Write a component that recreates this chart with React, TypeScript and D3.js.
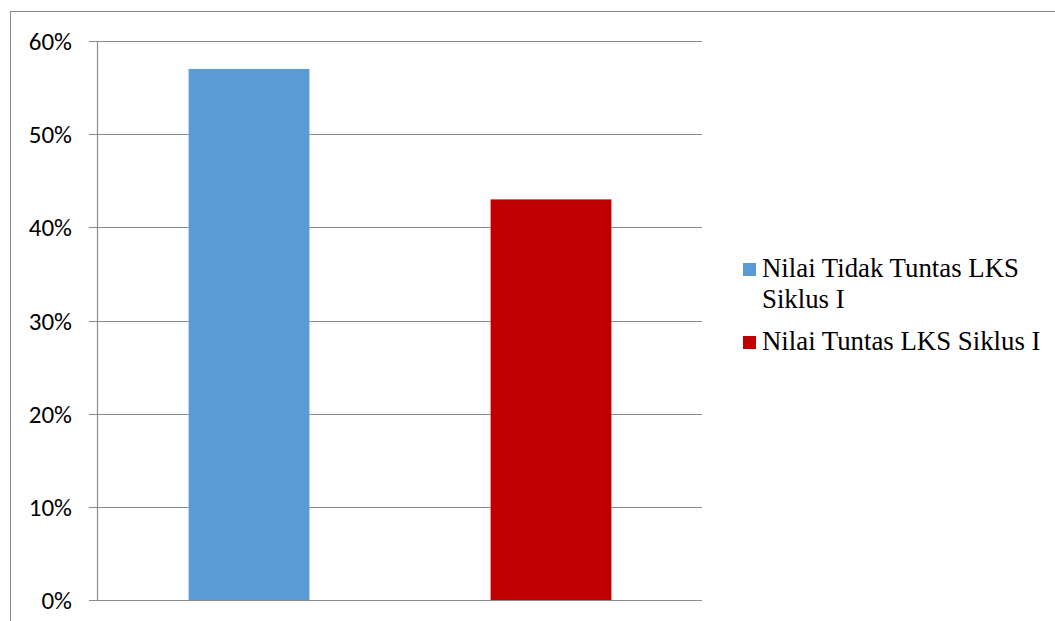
import React from "react";
import * as d3 from "d3";

const categories = ["Nilai Tidak Tuntas LKS Siklus I", "Nilai Tuntas LKS Siklus I"];
const values = [0.57, 0.43];
const colors = ["#5B9BD5", "#C00000"];
const yTicks = [0, 0.1, 0.2, 0.3, 0.4, 0.5, 0.6];
const legendLines = [["Nilai Tidak Tuntas LKS", "Siklus I"], ["Nilai Tuntas LKS Siklus I"]];

export default function App() {
  const W = 1055, H = 621;
  const left = 98, right = 702, top = 41, bottom = 600;
  const x = d3.scaleBand<string>().domain(categories).range([left, right]).paddingInner(0.6).paddingOuter(0.3);
  const y = d3.scaleLinear().domain([0, 0.6]).range([bottom, top]);
  const fmt = d3.format(".0%");
  const legendBase = [277, 350];
  const sans = { fontFamily: "Carlito, Lato, sans-serif", fontSize: "25px" };
  const serif = { fontFamily: "'Liberation Serif', 'Times New Roman', serif", fontSize: "26.8px" };
  return (
    <svg width={W} height={H} style={{ position: "absolute", left: 0, top: 0, background: "#fff" }}>
      <rect x={10.5} y={11.5} width={W + 20} height={H + 20} fill="#fff" stroke="#8a8a8a" strokeWidth={1} />
      {yTicks.map((t) => (
        <g key={t}>
          <line x1={89} x2={right} y1={Math.round(y(t)) + 0.5} y2={Math.round(y(t)) + 0.5} stroke="#8c8c8c" strokeWidth={1.2} />
          <text x={72} y={y(t)} dy="0.36em" textAnchor="end" style={sans} fill="#000">
            {fmt(t)}
          </text>
        </g>
      ))}
      <line x1={left - 0.5} x2={left - 0.5} y1={top} y2={bottom} stroke="#8c8c8c" strokeWidth={1.2} />
      {categories.map((c, i) => (
        <rect key={c} x={x(c)} y={y(values[i])} width={x.bandwidth()} height={bottom - y(values[i])} fill={colors[i]} />
      ))}
      {categories.map((c, i) => (
        <g key={"l" + c}>
          <rect x={743} y={legendBase[i] - 14} width={13} height={13} fill={colors[i]} />
          {legendLines[i].map((ln, j) => (
            <text key={j} x={762} y={legendBase[i] + j * 31} style={serif} fill="#000">
              {ln}
            </text>
          ))}
        </g>
      ))}
    </svg>
  );
}
